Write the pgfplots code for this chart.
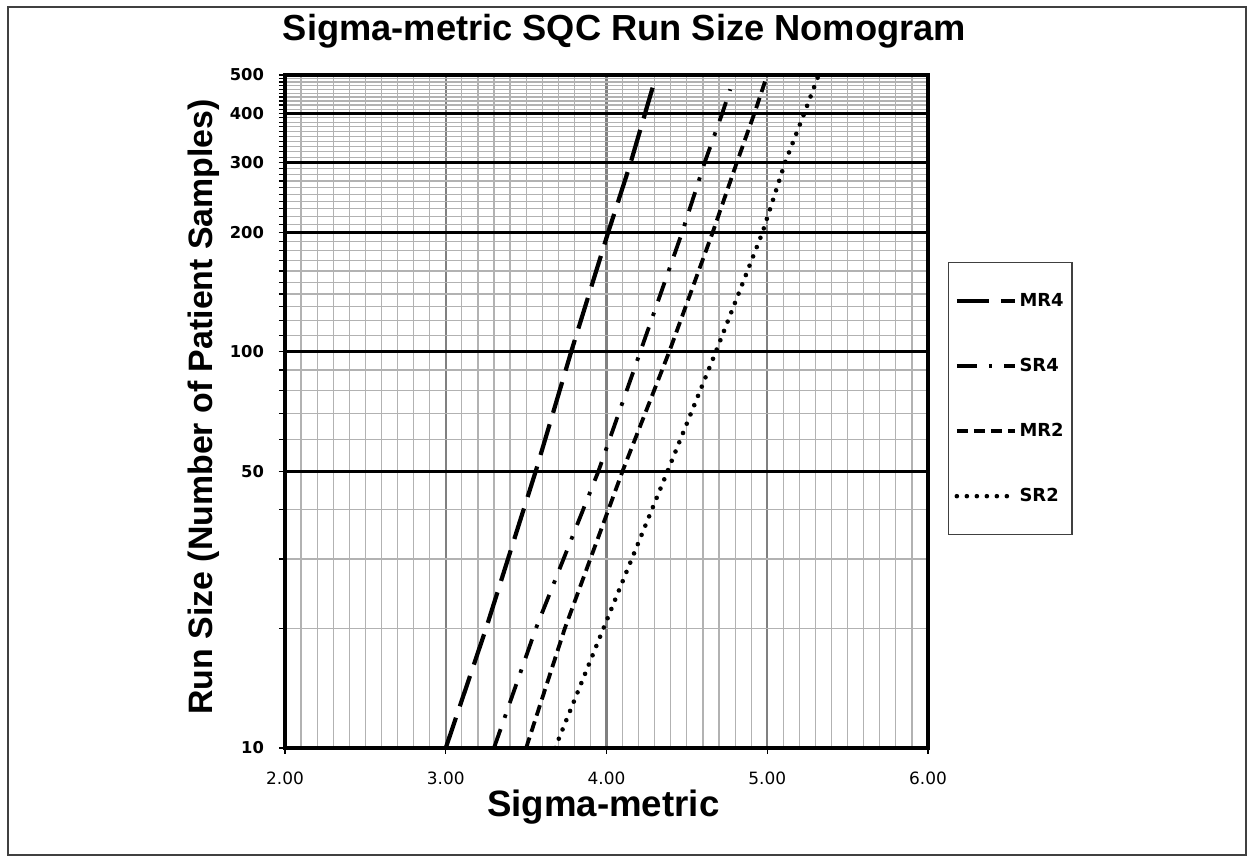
\documentclass[border=0pt]{standalone}
\usepackage{fontspec}
\setmainfont{Liberation Sans}
\newfontfamily\dejavu{DejaVu Sans}
\usepackage{pgfplots}
\pgfplotsset{compat=1.18}
\begin{document}
\begin{tikzpicture}
\path (-142.5bp,-56bp) rectangle (483.5bp,374bp);
\draw[line width=0.8bp, black!75] (-138.5bp,-53.5bp) rectangle (480.5bp,370.5bp);
\begin{axis}[at={(0,0)}, anchor=south west, scale only axis,
 width=321.5bp, height=336.5bp,
 xmin=2, xmax=6, ymode=log, ymin=10, ymax=500,
 xtick={2,3,4,5,6}, xticklabels={2.00,3.00,4.00,5.00,6.00},
 ytick={10,50,100,200,300,400,500}, yticklabels={10,50,100,200,300,400,500},
 minor x tick num=9,
 minor ytick={20,30,40,60,70,80,90,110,120,130,140,150,160,170,180,190,
   210,220,230,240,250,260,270,280,290,310,320,330,340,350,360,370,380,390,
   410,420,430,440,450,460,470,480,490},
 xmajorgrids, xminorgrids, yminorgrids, ymajorgrids=false,
 major grid style={black!50, line width=1.1bp},
 minor grid style={black!30, line width=0.6bp},
 extra y ticks={50,100,200,300,400}, extra y tick labels={},
 extra y tick style={grid=major, major grid style={black, line width=1.5bp}},
 axis line style={line width=1.8bp},
 tick pos=left, tick align=outside, major tick length=3bp, minor tick length=3bp,
 tick style={black, line width=0.6bp},
 minor x tick style={draw=none},
 xticklabel style={font=\dejavu\fontsize{8.5}{10}\selectfont, yshift=-5.5bp},
 yticklabel style={font=\dejavu\bfseries\fontsize{8.2}{10}\selectfont, xshift=-4bp},
 title={Sigma-metric SQC Run Size Nomogram},
 title style={at={(axis description cs:0.528,1)}, anchor=base, yshift=11.5bp,
   font=\bfseries\fontsize{18.2}{21}\selectfont},
 xlabel={Sigma-metric},
 xlabel style={at={(axis description cs:0.495,0)}, anchor=base, yshift=-34.5bp,
   font=\bfseries\fontsize{18.4}{22}\selectfont},
 ylabel={Run Size (Number of Patient Samples)},
 ylabel style={at={(axis description cs:-0.1135,0.507)}, anchor=base,
   font=\bfseries\fontsize{17}{20}\selectfont},
 legend image code/.code={\draw[#1] (0bp,0bp) -- (29bp,0bp);},
 legend cell align=left,
 legend style={at={(axis description cs:1.031,0.722)}, anchor=north west,
   draw=black!75, line width=0.6bp, font=\dejavu\bfseries\fontsize{9}{11}\selectfont,
   inner xsep=3bp, inner ysep=3bp, row sep=0pt,
   nodes={minimum height=32.5bp, inner sep=1.2bp}},
]
\addplot[black, line width=2.1bp, dash pattern=on 16bp off 6bp] coordinates {
 (3.00,10) (3.25,20) (3.56,50) (3.78,100) (4.01,200) (4.15,300) (4.24,400) (4.31,500)};
\addlegendentry{MR4}
\addplot[black, line width=1.9bp, dash pattern=on 10bp off 6bp on 1.8bp off 6bp] coordinates {
 (3.30,10) (3.56,20) (3.95,50) (4.21,100) (4.47,200) (4.61,300) (4.72,400) (4.77,460)};
\addlegendentry{SR4}
\addplot[black, line width=1.9bp, dash pattern=on 5.5bp off 3bp] coordinates {
 (3.50,10) (3.74,20) (4.10,50) (4.39,100) (4.66,200) (4.81,300) (4.92,400) (5.00,500)};
\addlegendentry{MR2}
\addplot[black, line width=2.3bp, line cap=round, dash pattern=on 0bp off 5bp] coordinates {
 (3.68,10) (3.98,20) (4.38,50) (4.68,100) (4.97,200) (5.11,300) (5.23,400) (5.32,500)};
\addlegendentry{SR2}
\end{axis}
\end{tikzpicture}
\end{document}
